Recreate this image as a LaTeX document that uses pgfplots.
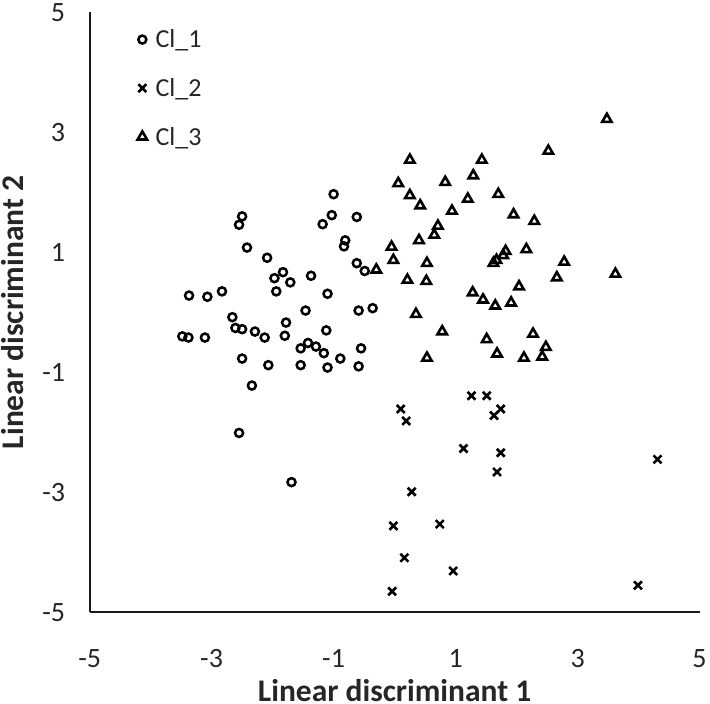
\documentclass[border=0pt]{standalone}
\usepackage{fontspec}
\setmainfont{Carlito}
\usepackage{pgfplots}
\pgfplotsset{compat=1.18}
\begin{document}
\begin{tikzpicture}
\begin{axis}[
    scale only axis,
    width=608bp, height=598bp,
    xmin=-5, xmax=5, ymin=-5, ymax=5,
    xtick={-5,-3,...,5}, ytick={-5,-3,...,5},
    axis lines=left,
    axis line style={-, line width=2.2bp, black!90},
    major tick length=0pt,
    /pgf/number format/assume math mode=true,
    tick label style={font=\fontsize{28}{30}\selectfont, text=black!85},
    yticklabel style={anchor=east, xshift=-21bp},
    xticklabel style={anchor=center, yshift=-46bp},
    xlabel={\textbf{Linear discriminant 1}},
    ylabel={\textbf{Linear discriminant 2}},
    label style={font=\fontsize{31.5}{33}\selectfont, text=black!85, inner sep=1bp},
    xlabel style={at={(axis description cs:0.5,-0.131)}, anchor=center},
    ylabel style={at={(axis description cs:-0.127,0.5)}, anchor=center},
    legend style={draw=none, fill=none, at={(axis description cs:0.0735,0.978)}, anchor=north west,
        font=\fontsize{26}{28}\selectfont, row sep=25bp, text=black!85,
        /tikz/every odd column/.append style={column sep=6.5bp}},
    legend cell align=left,
]
% Cl_1
\addplot[only marks, mark=o, mark size=4bp, line width=2.5bp, black] coordinates {
(-2.50,1.60) (-2.55,1.46) (-2.42,1.08) (-2.09,0.91) (-1.83,0.67) (-1.97,0.57)
(-1.94,0.35) (-3.37,0.28) (-3.07,0.26) (-2.83,0.35) (-2.66,-0.08) (-2.61,-0.26)
(-2.50,-0.28) (-2.29,-0.32) (-2.13,-0.42) (-1.78,-0.17) (-3.48,-0.40) (-3.38,-0.42)
(-3.11,-0.42) (-2.50,-0.77) (-2.07,-0.88) (-1.80,-0.39) (-1.00,1.97) (-1.03,1.62)
(-1.18,1.47) (-0.62,1.59) (-0.81,1.20) (-0.83,1.10) (-0.62,0.82) (-0.49,0.69)
(-1.71,0.50) (-1.37,0.61) (-1.10,0.31) (-1.46,0.03) (-0.59,0.03) (-0.36,0.07)
(-1.12,-0.30) (-1.42,-0.51) (-1.54,-0.60) (-1.29,-0.57) (-1.16,-0.68) (-0.89,-0.77)
(-0.55,-0.60) (-1.54,-0.88) (-1.10,-0.92) (-0.59,-0.90) (-2.34,-1.22) (-2.55,-2.01)
(-1.69,-2.83)
};
\addlegendentry{Cl\_1}
% Cl_2
\addplot[only marks, mark=x, mark size=5.6bp, line width=2.6bp, black] coordinates {
(1.26,-1.39) (1.51,-1.39) (1.74,-1.61) (1.63,-1.72) (0.10,-1.61) (0.19,-1.81)
(1.13,-2.27) (1.74,-2.34) (1.68,-2.66) (0.28,-2.99) (-0.02,-3.56) (0.74,-3.53)
(0.16,-4.09) (0.96,-4.31) (-0.04,-4.65) (4.31,-2.45) (3.99,-4.55)
};
\addlegendentry{Cl\_2}
% Cl_3
\addplot[only marks, mark=triangle, mark size=5.4bp, line width=2.6bp, black] coordinates {
(2.52,2.69) (0.25,2.54) (1.43,2.54) (0.06,2.15) (0.83,2.17) (1.29,2.28)
(0.25,1.95) (0.42,1.78) (1.20,1.89) (1.70,1.97) (0.94,1.69) (1.95,1.63)
(2.29,1.52) (0.71,1.44) (0.65,1.29) (0.40,1.20) (-0.05,1.09) (2.16,1.05)
(-0.02,0.87) (0.53,0.82) (1.82,1.02) (1.78,0.95) (1.67,0.87) (1.62,0.82)
(2.78,0.84) (-0.30,0.71) (0.21,0.54) (0.52,0.52) (2.66,0.58) (2.04,0.43)
(1.28,0.33) (1.45,0.21) (1.65,0.11) (1.91,0.16) (1.51,-0.45) (2.27,-0.36)
(1.68,-0.69) (2.12,-0.76) (2.48,-0.58) (2.42,-0.74) (3.48,3.22) (3.62,0.64)
(0.35,-0.03) (0.78,-0.32) (0.53,-0.76)
};
\addlegendentry{Cl\_3}
\end{axis}
\end{tikzpicture}
\end{document}
